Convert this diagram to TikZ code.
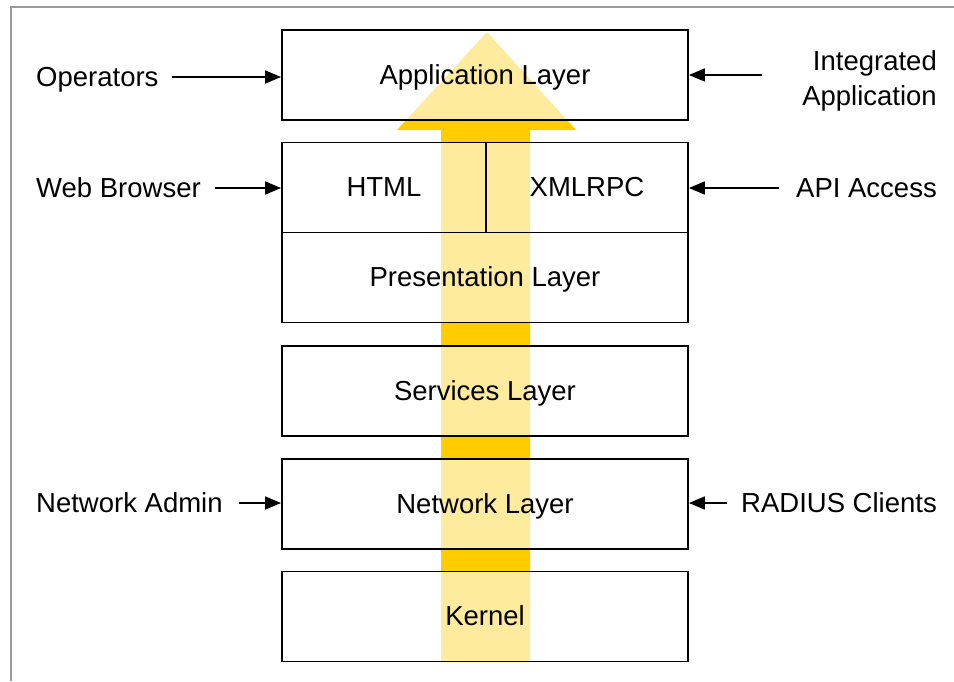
\documentclass[tikz,border=0pt]{standalone}
\usepackage{fontspec}
\setmainfont{Liberation Sans}
\usetikzlibrary{arrows.meta}
\definecolor{flowyellow}{HTML}{FFCC00}
\definecolor{framegray}{HTML}{9A9A9A}
\begin{document}
\begin{tikzpicture}[x=1pt, y=-1pt,
  layerbox/.style={rectangle, draw=black, line width=1.8pt, fill=white, fill opacity=0.62, text opacity=1, minimum height=90pt, inner sep=0pt, text height=24pt, text depth=6pt, font=\fontsize{27.5}{35}\selectfont},
  sidelabel/.style={inner sep=0pt, text height=24pt, text depth=6pt, font=\fontsize{27.5}{35}\selectfont},
  feed/.style={line width=1.6pt, -{Triangle[length=16pt,width=13pt]}}]
  \useasboundingbox (0,0) rectangle (954,681);
  \draw[framegray, line width=2pt] (10.5,681) -- (10.5,6.5) -- (954,6.5);

  % the rising arrow behind the layers
  \fill[flowyellow] (487,32) -- (576,130) -- (530,130) -- (530,662) -- (441,662) -- (441,130) -- (397,130) -- cycle;

  \node[layerbox, minimum width=406pt] (app) at (485,75) {Application Layer};
  \node[layerbox, minimum width=204pt] (html) at (384,187.5) {HTML};
  \node[layerbox, minimum width=202pt] (xml) at (587,187.5) {XMLRPC};
  \node[layerbox, minimum width=406pt] (pres) at (485,277.5) {Presentation Layer};
  \node[layerbox, minimum width=406pt] (serv) at (485,391) {Services Layer};
  \node[layerbox, minimum width=406pt] (net) at (485,504) {Network Layer};
  \node[layerbox, minimum width=406pt] (kern) at (485,616.5) {Kernel};

  \node[sidelabel, anchor=west] (ops) at (36,77) {Operators};
  \node[sidelabel, anchor=west] (web) at (36,188) {Web Browser};
  \node[sidelabel, anchor=west] (adm) at (36,503) {Network Admin};
  \node[inner sep=0pt, anchor=east, align=right, font=\fontsize{27.5}{35}\selectfont] (integ) at (937,81) {Integrated\\Application};
  \node[sidelabel, anchor=east] (api) at (937,188) {API Access};
  \node[sidelabel, anchor=east] (rad) at (937,503) {RADIUS Clients};

  \draw[feed] ([xshift=13pt]ops.east) -- (ops.east -| app.west);
  \draw[feed] ([xshift=14pt]web.east) -- (web.east -| html.west);
  \draw[feed] ([xshift=16pt]adm.east) -- (adm.east -| net.west);
  \draw[feed] (762,75) coordinate (integin) -- (integin -| app.east);
  \draw[feed] ([xshift=-17pt]api.west) -- (api.west -| xml.east);
  \draw[feed] ([xshift=-14pt]rad.west) -- (rad.west -| net.east);
\end{tikzpicture}
\end{document}
